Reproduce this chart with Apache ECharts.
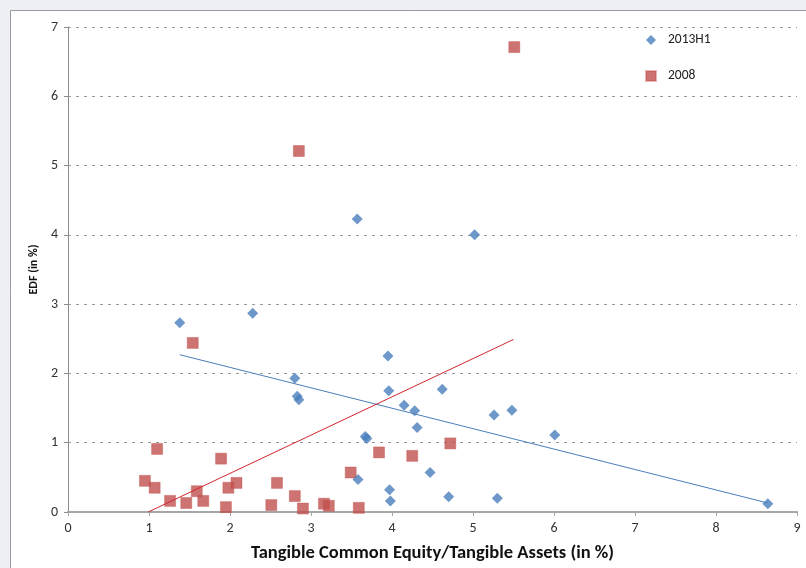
<!DOCTYPE html>
<html>
<head>
<meta charset="utf-8">
<script src="https://cdn.jsdelivr.net/npm/echarts@6/dist/echarts.min.js"></script>
<style>
  html, body { margin: 0; padding: 0; background: #edf1f5; }
  #chart { width: 806px; height: 568px; }
</style>
</head>
<body>
<div id="chart"></div>
<script>
// EDF versus tangible common equity ratio, two samples with linear trends
const seriesNames = ['2013H1', '2008'];

const tce2013 = [1.38, 2.28, 3.57, 5.02, 2.80, 2.83, 2.85, 3.95, 3.96, 4.15, 4.28, 4.31, 4.62, 5.26, 5.48, 6.01, 3.67, 3.69, 3.58, 3.97, 3.98, 4.47, 4.70, 5.30, 8.64];
const edf2013 = [2.73, 2.87, 4.23, 4.00, 1.93, 1.67, 1.62, 2.25, 1.75, 1.54, 1.46, 1.22, 1.77, 1.40, 1.47, 1.11, 1.09, 1.06, 0.47, 0.32, 0.16, 0.57, 0.22, 0.20, 0.12];

const tce2008 = [5.51, 2.85, 1.54, 0.95, 1.10, 1.07, 1.26, 1.46, 1.59, 1.67, 1.89, 1.98, 2.08, 1.95, 2.58, 2.51, 2.80, 2.90, 3.16, 3.22, 3.49, 3.59, 3.84, 4.25, 4.72];
const edf2008 = [6.71, 5.21, 2.44, 0.45, 0.91, 0.35, 0.16, 0.13, 0.30, 0.16, 0.77, 0.35, 0.42, 0.07, 0.42, 0.10, 0.23, 0.05, 0.12, 0.09, 0.57, 0.06, 0.86, 0.81, 0.99];

// Linear trend end points
const trend2013X = [1.38, 8.64];
const trend2013Y = [2.27, 0.13];
const trend2008X = [0.99, 5.50];
const trend2008Y = [0.00, 2.49];

const xTicks = [0, 9, 1];
const yTicks = [0, 7, 1];

const zip = (xs, ys) => xs.map((x, i) => [x, ys[i]]);

const font = 'Carlito, Calibri, "Open Sans", sans-serif';
const blue = '#4a7ebb';
const red = '#c0504d';

const chart = echarts.init(document.getElementById('chart'));
chart.setOption({
  backgroundColor: '#edf1f5',
  animation: false,
  textStyle: { fontFamily: font },
  graphic: [{
    type: 'rect',
    z: -10,
    shape: { x: 10.5, y: 10.5, width: 840, height: 600 },
    style: { fill: '#ffffff', stroke: '#9a9a9a', lineWidth: 1 }
  }],
  grid: { left: 68, right: 9, top: 27, bottom: 54 },
  legend: {
    orient: 'vertical',
    left: 640,
    top: 27,
    itemGap: 20,
    itemWidth: 10,
    itemHeight: 10,
    data: [
      { name: seriesNames[0], icon: 'diamond' },
      { name: seriesNames[1], icon: 'rect' }
    ],
    textStyle: { fontFamily: font, fontSize: 13.5, color: '#222', padding: [0, 0, 0, 7], lineHeight: 16 }
  },
  xAxis: {
    type: 'value',
    min: xTicks[0], max: xTicks[1], interval: xTicks[2],
    name: 'Tangible Common Equity/Tangible Assets (in %)',
    nameLocation: 'middle',
    nameGap: 32,
    nameTextStyle: { fontFamily: font, fontSize: 18.5, fontWeight: 'bold', color: '#111' },
    axisLine: { lineStyle: { color: '#a6a6a6', width: 2 } },
    axisTick: { show: true, length: 4, lineStyle: { color: '#a6a6a6' } },
    axisLabel: { fontSize: 14, color: '#333', margin: 9 },
    splitLine: { show: false }
  },
  yAxis: {
    type: 'value',
    min: yTicks[0], max: yTicks[1], interval: yTicks[2],
    name: 'EDF (in %)',
    nameLocation: 'middle',
    nameGap: 27,
    nameRotate: 90,
    nameTextStyle: { fontFamily: font, fontSize: 12, fontWeight: 'bold', color: '#111' },
    axisLine: { show: true, lineStyle: { color: '#8c8c8c', width: 1 } },
    axisTick: { show: true, length: 4, lineStyle: { color: '#8c8c8c' } },
    axisLabel: { fontSize: 14, color: '#333', margin: 10 },
    splitLine: { show: true, lineStyle: { color: '#9a9a9a', type: [3, 5] } }
  },
  series: [
    {
      name: seriesNames[0],
      type: 'scatter',
      symbol: 'diamond',
      symbolSize: 11,
      itemStyle: { color: blue },
      data: zip(tce2013, edf2013),
      z: 3
    },
    {
      name: seriesNames[1],
      type: 'scatter',
      symbol: 'rect',
      symbolSize: 11,
      itemStyle: { color: red, borderColor: 'rgba(192,80,77,0.5)', borderWidth: 1 },
      data: zip(tce2008, edf2008),
      z: 2
    },
    {
      name: 'trend2013',
      type: 'line',
      showSymbol: false,
      silent: true,
      lineStyle: { color: blue, width: 1 },
      data: zip(trend2013X, trend2013Y),
      z: 4
    },
    {
      name: 'trend2008',
      type: 'line',
      showSymbol: false,
      silent: true,
      lineStyle: { color: '#d0262e', width: 1 },
      data: zip(trend2008X, trend2008Y),
      z: 4
    }
  ]
});
</script>
</body>
</html>
